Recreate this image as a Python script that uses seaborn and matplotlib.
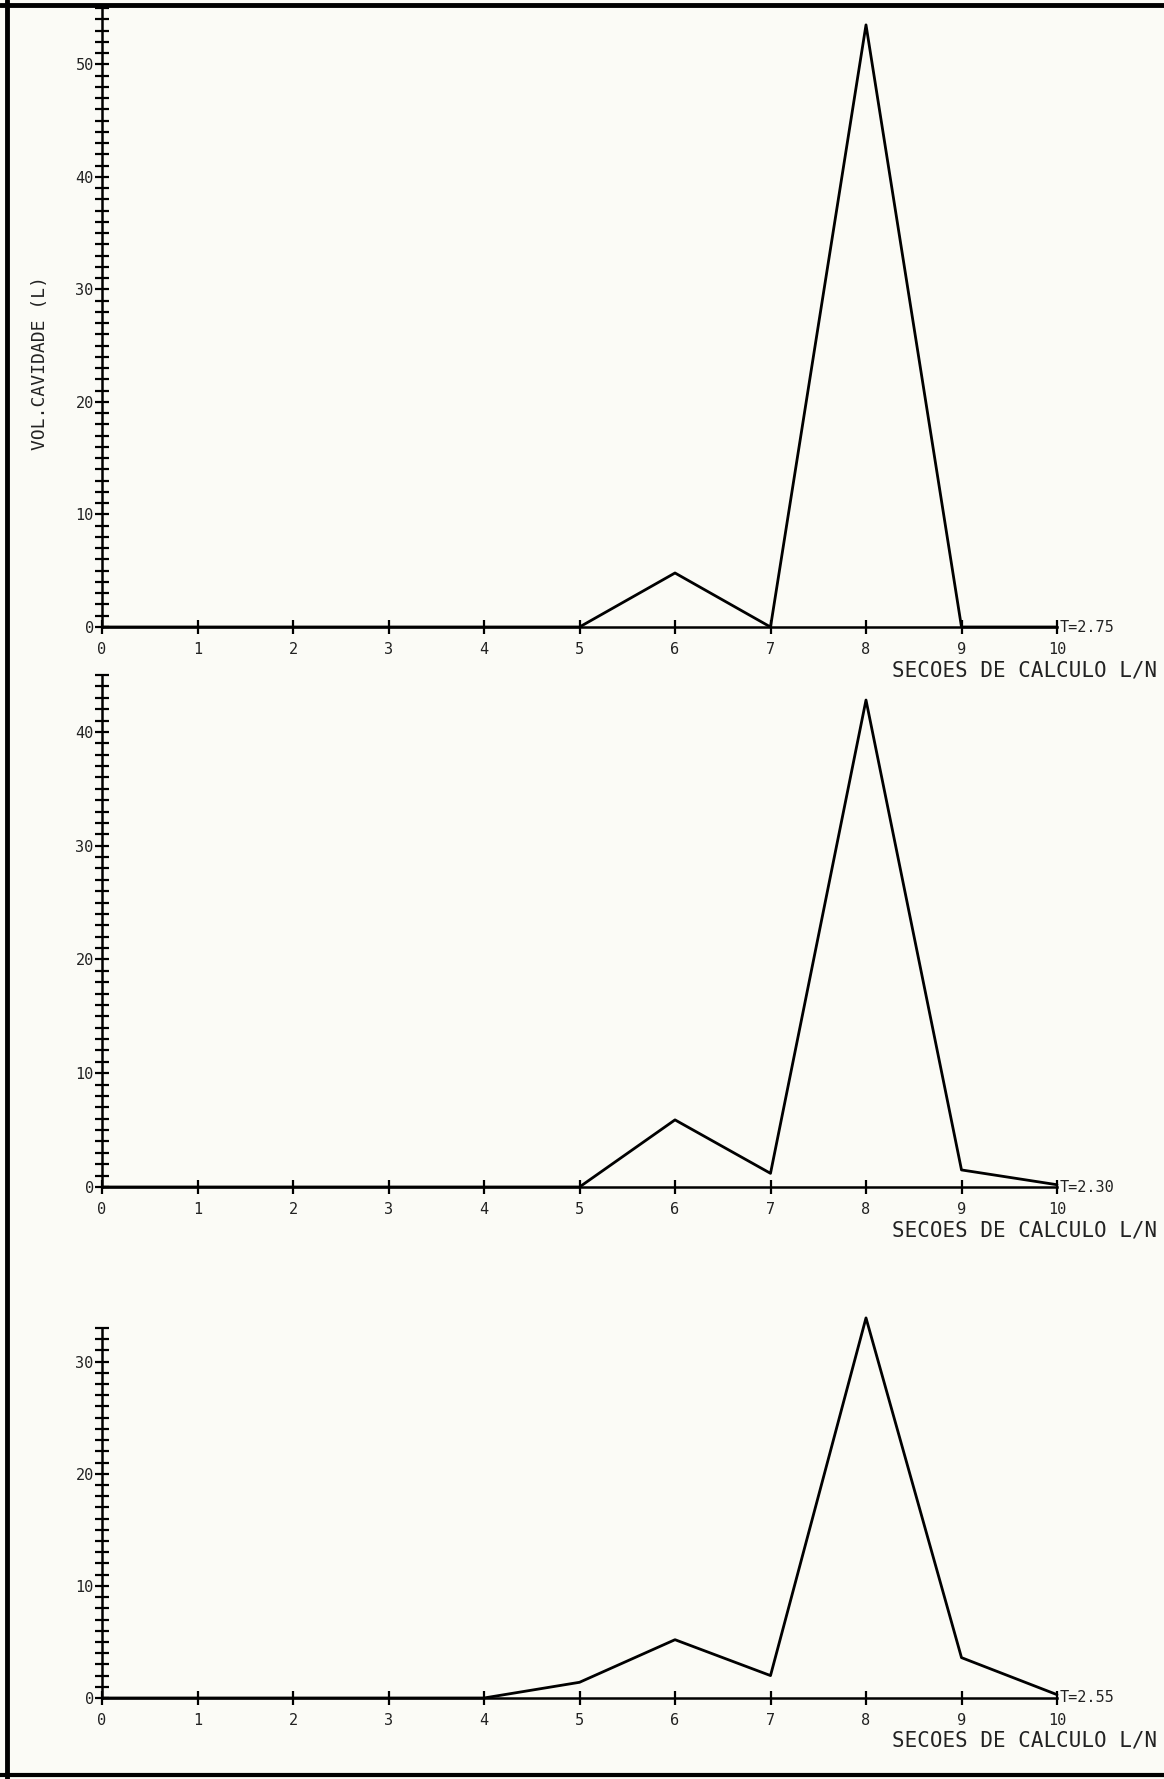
import matplotlib
matplotlib.use('Agg')
import matplotlib.pyplot as plt
import numpy as np
import seaborn as sns
from matplotlib.lines import Line2D

# secoes de calculo L/N
secoes = [0, 1, 2, 3, 4, 5, 6, 7, 8, 9, 10]

# volume da cavidade (L) for each instant
vol_t275 = [0, 0, 0, 0, 0, 0, 4.8, 0, 53.5, 0, 0]
vol_t230 = [0, 0, 0, 0, 0, 0, 5.9, 1.2, 42.8, 1.5, 0.2]
vol_t255 = [0, 0, 0, 0, 0, 1.4, 5.2, 2.0, 33.9, 3.6, 0.3]

tempos = ['T=2.75', 'T=2.30', 'T=2.55']
ytops = [55, 45, 33]
ymajor = [[0, 10, 20, 30, 40, 50], [0, 10, 20, 30, 40], [0, 10, 20, 30]]

sns.set_theme(style='white')
plt.rcParams['font.family'] = ['DejaVu Sans Mono', 'DejaVu Sans']

W, H = 1164, 1779
fig = plt.figure(figsize=(W / 100, H / 100), dpi=100, facecolor='#fbfbf6')

x0, x10 = 102, 1057
# (pixel of y=0, pixel of axis top) for each panel
panels = [(627, 8), (1187, 675), (1698, 1328)]
series = [vol_t275, vol_t230, vol_t255]

for i, (py0, ptop) in enumerate(panels):
    ax = fig.add_axes([x0 / W, 1 - py0 / H, (x10 - x0) / W, (py0 - ptop) / H])
    ax.set_facecolor('none')
    sns.lineplot(x=secoes, y=series[i], ax=ax, color='black', linewidth=2.0, clip_on=False)
    ax.set_xlim(0, 10)
    ax.set_ylim(0, ytops[i])
    for s in ['top', 'right']:
        ax.spines[s].set_visible(False)
    for s in ['left', 'bottom']:
        ax.spines[s].set_color('black')
        ax.spines[s].set_linewidth(1.8)
    ax.spines['left'].set_bounds(0, ytops[i])
    ax.spines['bottom'].set_bounds(0, 10)

    ax.set_xticks(secoes)
    ax.set_xticklabels([str(v) for v in secoes])
    ax.set_yticks(ymajor[i])
    ax.set_yticks(np.arange(0, ytops[i] + 1), minor=True)
    ax.tick_params(axis='both', which='both', direction='inout', length=10, width=1.6,
                   color='black', labelsize=11, labelcolor='#222222')
    ax.tick_params(axis='y', which='both', left=True, pad=1)
    ax.tick_params(axis='x', which='major', bottom=True, pad=6)

    ax.text(10.03, 0, tempos[i], ha='left', va='center', fontsize=11, color='#222222', clip_on=False)

    hpx = py0 - ptop
    ax.set_xlabel('SECOES DE CALCULO L/N', fontsize=15, color='#222222', ha='right', va='center')
    ax.xaxis.set_label_coords((1157 - x0) / (x10 - x0), -43 / hpx)

fig.text(40 / W, 1 - 363 / H, 'VOL.CAVIDADE (L)', rotation=90, ha='center', va='center',
         fontsize=13, color='#222222')

# page frame (left, top, bottom)
fig.add_artist(Line2D([7 / W, 7 / W], [0, 1], color='black', linewidth=3.5))
fig.add_artist(Line2D([0, 1], [1 - 5 / H, 1 - 5 / H], color='black', linewidth=3.5))
fig.add_artist(Line2D([0, 1], [1 - 1775 / H, 1 - 1775 / H], color='black', linewidth=3.0))

fig.savefig('out.png', dpi=100, facecolor=fig.get_facecolor())
